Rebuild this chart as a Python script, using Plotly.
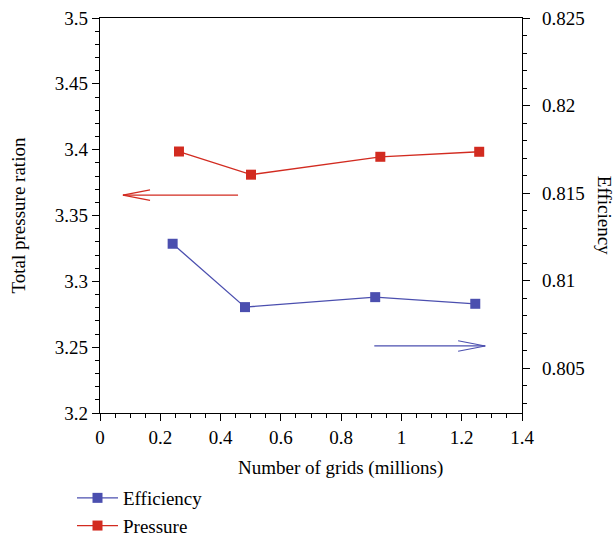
import plotly.graph_objects as go

# Grid-independence study: total pressure ratio and efficiency vs. mesh size
pressure_grids = [0.262, 0.501, 0.930, 1.258]
pressure_ratio = [3.3986, 3.381, 3.3946, 3.3984]

efficiency_grids = [0.241, 0.481, 0.913, 1.245]
efficiency = [0.8121, 0.80848, 0.80905, 0.80867]

RED = "#D22B20"
BLUE = "#4B4FAF"
FONT = "Liberation Serif"
FS = 19

fig = go.Figure()

fig.add_trace(go.Scatter(
    x=efficiency_grids, y=efficiency, name="Efficiency", yaxis="y2",
    mode="lines+markers", line=dict(color=BLUE, width=1.3),
    marker=dict(symbol="square", size=10, color=BLUE),
))
fig.add_trace(go.Scatter(
    x=pressure_grids, y=pressure_ratio, name="Pressure",
    mode="lines+markers", line=dict(color=RED, width=1.3),
    marker=dict(symbol="square", size=10, color=RED),
))

# Open arrows pointing to the axis each series belongs to
def open_arrow(x_tail, x_tip, y, yref, color, head_dx, head_dy):
    d = 1 if x_tip > x_tail else -1
    for xs, ys in [((x_tail, x_tip), (y, y)),
                   ((x_tip - d * head_dx, x_tip), (y + head_dy, y)),
                   ((x_tip - d * head_dx, x_tip), (y - head_dy, y))]:
        fig.add_shape(type="line", xref="x", yref=yref,
                      x0=xs[0], x1=xs[1], y0=ys[0], y1=ys[1],
                      line=dict(color=color, width=1.2))

open_arrow(0.458, 0.076, 3.3655, "y", RED, 0.09, 0.004)
open_arrow(0.91, 1.278, 0.80626, "y2", BLUE, 0.09, 0.0003)

axis_common = dict(
    showgrid=False, zeroline=False, showline=True, linecolor="black", linewidth=1.3,
    ticks="outside", ticklen=7, tickwidth=1.2, tickcolor="black",
    tickfont=dict(family=FONT, size=FS, color="black"),
)

fig.update_layout(
    width=615, height=537,
    margin=dict(l=100, r=93, t=18, b=124, autoexpand=False),
    plot_bgcolor="white", paper_bgcolor="white",
    font=dict(family=FONT, size=FS, color="black"),
    xaxis=dict(
        **axis_common, range=[0, 1.4], dtick=0.2, mirror=True,
        minor=dict(dtick=0.05, ticks="outside", ticklen=4, tickcolor="black"),
    ),
    yaxis=dict(
        **axis_common, range=[3.2, 3.5], dtick=0.05,
        minor=dict(dtick=0.01, ticks="outside", ticklen=4, tickcolor="black"),
        ticklabelstandoff=0,
    ),
    yaxis2=dict(
        **axis_common, range=[0.80243, 0.825], dtick=0.005,
        overlaying="y", side="right", ticklabelstandoff=8,
        minor=dict(dtick=0.001, ticks="outside", ticklen=4, tickcolor="black"),
    ),
    legend=dict(
        xref="container", yref="container",
        x=72 / 615, y=1 - 479 / 537, xanchor="left", yanchor="top",
        font=dict(family=FONT, size=FS), bgcolor="rgba(0,0,0,0)",
        itemwidth=41, tracegroupgap=0,
    ),
    annotations=[
        dict(text="Number of grids (millions)", xref="paper", yref="paper",
             x=0.571, y=-0.138, xanchor="center", yanchor="middle",
             showarrow=False, font=dict(family=FONT, size=FS)),
        dict(text="Total pressure ration", xref="paper", yref="paper",
             x=-0.192, y=0.5, xanchor="center", yanchor="middle",
             textangle=-90, showarrow=False, font=dict(family=FONT, size=FS)),
        dict(text="Efficiency", xref="paper", yref="paper",
             x=1.196, y=0.5, xanchor="center", yanchor="middle",
             textangle=90, showarrow=False, font=dict(family=FONT, size=FS)),
    ],
)

fig.write_html("out.html")
